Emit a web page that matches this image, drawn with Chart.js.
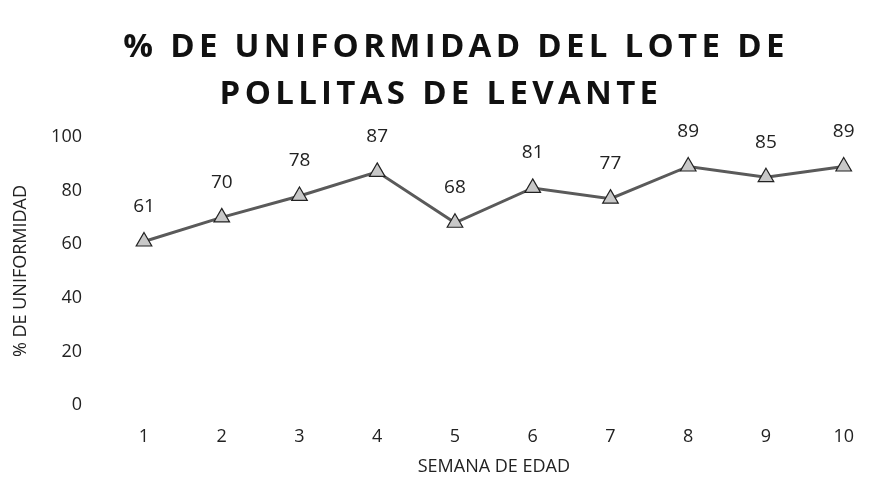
<!DOCTYPE html>
<html lang="es">
<head>
<meta charset="UTF-8">
<title>Uniformidad</title>
<script src="https://cdn.jsdelivr.net/npm/chart.js"></script>
<style>
  body { margin: 0; background: #fff; }
</style>
</head>
<body>
<canvas id="myChart" width="875" height="478"></canvas>
<script>
// semanas y % de uniformidad
const semanas = ['1', '2', '3', '4', '5', '6', '7', '8', '9', '10'];
const uniformidad = [61, 70, 78, 87, 68, 81, 77, 89, 85, 89];
const yTicks = [0, 20, 40, 60, 80, 100];
const titulo = ['% DE UNIFORMIDAD DEL LOTE DE', 'POLLITAS DE LEVANTE'];

// titulo con espaciado entre letras
const tituloPlugin = {
  id: 'tituloPlugin',
  afterDraw(chart) {
    const ctx = chart.ctx;
    ctx.save();
    ctx.fillStyle = '#111';
    ctx.font = 'bold 33px "Open Sans"';
    ctx.letterSpacing = '4.3px';
    ctx.textAlign = 'center';
    ctx.textBaseline = 'middle';
    ctx.fillText(titulo[0], 456, 48);
    ctx.fillText(titulo[1], 441, 95);
    ctx.restore();
  }
};

// etiquetas de valor sobre cada punto
const etiquetas = {
  id: 'etiquetas',
  afterDatasetsDraw(chart) {
    const ctx = chart.ctx;
    const meta = chart.getDatasetMeta(0);
    ctx.save();
    ctx.fillStyle = '#222';
    ctx.font = '19px "Open Sans"';
    ctx.textAlign = 'center';
    ctx.textBaseline = 'middle';
    meta.data.forEach((pt, i) => {
      ctx.fillText(uniformidad[i], pt.x, pt.y - 35);
    });
    ctx.restore();
  }
};

const ctx = document.getElementById('myChart').getContext('2d');
new Chart(ctx, {
  type: 'line',
  data: {
    labels: semanas,
    datasets: [{
      data: uniformidad,
      borderColor: '#5a5a5a',
      borderWidth: 3,
      pointStyle: 'triangle',
      pointRadius: 9,
      pointBackgroundColor: '#c8c8c8',
      pointBorderColor: '#222',
      pointBorderWidth: 1.2,
      tension: 0
    }]
  },
  options: {
    responsive: false,
    animation: false,
    layout: { padding: { top: 137, right: 13, left: 6, bottom: 0 } },
    plugins: { legend: { display: false }, tooltip: { enabled: false } },
    scales: {
      x: {
        offset: false,
        afterFit(axis) { axis.height = 73; },
        grid: { display: false, drawTicks: false },
        border: { display: false },
        ticks: { color: '#222', font: { family: 'Open Sans', size: 18 }, padding: 21 },
        title: { display: true, text: 'SEMANA DE EDAD', color: '#222',
                 font: { family: 'Open Sans', size: 18 }, padding: { top: 0, bottom: 0 } }
      },
      y: {
        min: 0, max: 100,
        afterBuildTicks(axis) { axis.ticks = yTicks.map(v => ({ value: v })); },
        afterFit(axis) { axis.width = 138; },
        grid: { display: false, drawTicks: false },
        border: { display: false },
        ticks: { color: '#222', font: { family: 'Open Sans', size: 18 }, padding: 62 },
        title: { display: true, text: '% DE UNIFORMIDAD', color: '#222',
                 font: { family: 'Open Sans', size: 18 } }
      }
    }
  },
  plugins: [tituloPlugin, etiquetas]
});
</script>
</body>
</html>
